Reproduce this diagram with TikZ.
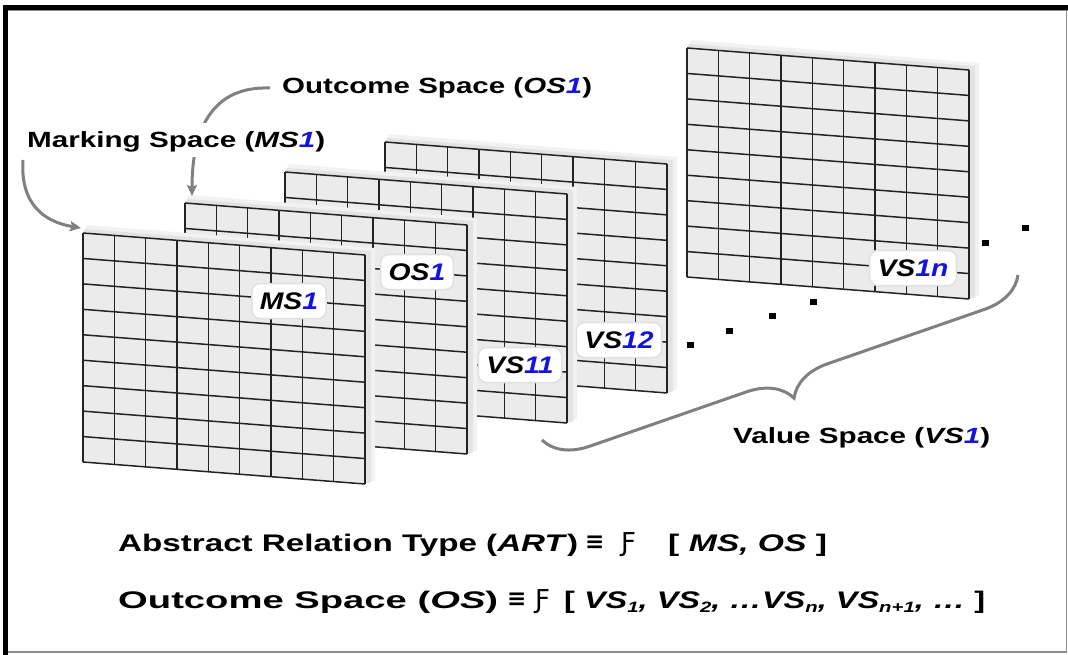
\documentclass[tikz,border=0pt]{standalone}
\usepackage{fontspec}
\usepackage{graphicx}
\setmainfont{Liberation Sans}
\newfontfamily\tagfont{Liberation Sans}[FakeStretch=1.18]
\newfontfamily\hookfont{DejaVu Sans}
\usetikzlibrary{arrows.meta,decorations.pathreplacing}

\definecolor{blueone}{RGB}{20,20,225}
\definecolor{arrowgray}{RGB}{128,128,128}
\definecolor{panelfill}{RGB}{235,235,235}
\definecolor{gridcol}{RGB}{35,35,35}

\newcommand{\bl}[1]{\textcolor{blueone}{#1}}
\newcommand{\stretchto}[2]{\resizebox{#1}{\height}{#2}}
\newcommand{\subx}[1]{\raisebox{-4pt}{\fontsize{15}{15}\selectfont #1}}

\tikzset{
  gridline/.style={draw=gridcol, line width=1.5pt, line cap=square},
  tagbox/.style={fill=white, draw=black!12, line width=1.5pt, rounded corners=8pt,
    inner xsep=8pt, minimum height=35pt,
    font=\tagfont\bfseries\itshape\fontsize{24}{24}\selectfont},
  toplabel/.style={anchor=base west, inner sep=0pt,
    font=\bfseries\fontsize{22}{22}\selectfont},
  eqline/.style={anchor=base west, inner sep=0pt,
    font=\bfseries\fontsize{24}{24}\selectfont},
  equivsym/.style={anchor=base west, inner sep=0pt,
    font=\hookfont\bfseries\fontsize{23}{23}\selectfont},
  hooksym/.style={anchor=base west, inner sep=0pt,
    font=\hookfont\fontsize{26}{26}\selectfont},
  flowarrow/.style={draw=arrowgray, line width=3pt,
    -{Stealth[length=11pt,width=10pt,inset=2pt]}},
  dotmark/.style={fill=black},
}

\newcommand{\gridpanel}[2]{%
\begin{scope}[shift={(#1,#2)}]
  \fill[black!5] (4,-8) -- (292,15) -- (292,247) -- (282,251) -- (282,22) -- (0,0) -- cycle;
  \fill[black!11] (2,-4) -- (288,18) -- (288,249) -- (282,251) -- (282,22) -- (0,0) -- cycle;
  \fill[panelfill] (0,0) -- (282,22) -- (282,251) -- (0,229) -- cycle;
  \foreach \k in {0,...,9}{
    \draw[gridline] ({\k*282/9},{\k*22/9}) -- ++(0,229);
    \draw[gridline] (0,{\k*229/9}) -- (282,{22+\k*229/9});
  }
\end{scope}}

\begin{document}
\begin{tikzpicture}[x=1pt,y=-1pt]
\useasboundingbox (0,0) rectangle (1068,655);
\fill[white] (0,0) rectangle (1068,655);

% panels, farthest first
\gridpanel{687}{48}
\gridpanel{385}{142}
\gridpanel{285}{172}
\gridpanel{185}{203}
\gridpanel{83}{233}

% tags
\node[tagbox] (vs1n) at (913,268) {VS\bl{1n}};
\node[tagbox] (vs12) at (619,340) {VS\bl{12}};
\node[tagbox] (vs11) at (520,365) {VS\bl{11}};
\node[tagbox] (os1) at (417,272) {OS\bl{1}};
\node[tagbox] (ms1) at (289,301) {MS\bl{1}};

% dots
\foreach \px/\py in {690/345, 729/331, 772/316, 813/302, 985/243, 1025/228}
  \fill[dotmark] ({\px-3.5},{\py-3}) rectangle ({\px+3.5},{\py+3});

% brace
\coordinate (bracestart) at (542,440);
\coordinate (braceend) at (1018,275);
\draw[arrowgray, line width=3pt, decorate,
  decoration={brace, amplitude=43pt, mirror}] (bracestart) -- (braceend);

% arrows
\coordinate (msarrowstart) at (23,160);
\coordinate (p1corner) at (81,228);
\draw[flowarrow] (msarrowstart) .. controls (20,205) and (45,222) .. (p1corner);
\coordinate (osarrowstart) at (270,88);
\coordinate (p2corner) at (192,196);
\draw[flowarrow] (osarrowstart) .. controls (215,86) and (192,125) .. (p2corner);

% top labels
\node[toplabel, fill=white, inner sep=3pt, text height=22pt, text depth=6pt]
  (mslabel) at (24,148) {\stretchto{298pt}{Marking Space (\textit{MS\bl{1}})}};
\node[toplabel] (oslabel) at (282,94) {\stretchto{310pt}{Outcome Space (\textit{OS\bl{1}})}};
\node[toplabel] (vslabel) at (733,443) {\stretchto{257pt}{Value Space (\textit{VS\bl{1}})}};

% bottom relations
\node[eqline] (art) at (118,551) {\stretchto{460pt}{Abstract Relation Type (\textit{ART})}};
\node[equivsym] (eqa) at (585,549) {≡};
\node[hooksym] (fa) at (621,551) {Ƒ};
\node[eqline] (arga) at (668,551) {\stretchto{159pt}{[ \textit{MS, OS} ]}};

\node[eqline] (osdef) at (118,608) {\stretchto{380pt}{Outcome Space (\textit{OS})}};
\node[equivsym] (eqb) at (507,606) {≡};
\node[hooksym] (fb) at (535,608) {Ƒ};
\node[eqline] (argb) at (564,608) {\stretchto{421pt}{[ \textit{VS\subx{1}, VS\subx{2}, …VS\subx{n}, VS\subx{n+1}, …} ]}};

% frame
\draw[black, line width=5pt] (5.5,655) -- (5.5,7.5) -- (1068,7.5);
\draw[black!45, line width=1pt] (8,10.5) -- (1068,10.5);
\draw[black!45, line width=1.2pt] (1066.5,10) -- (1066.5,652) -- (8,652);
\end{tikzpicture}
\end{document}
